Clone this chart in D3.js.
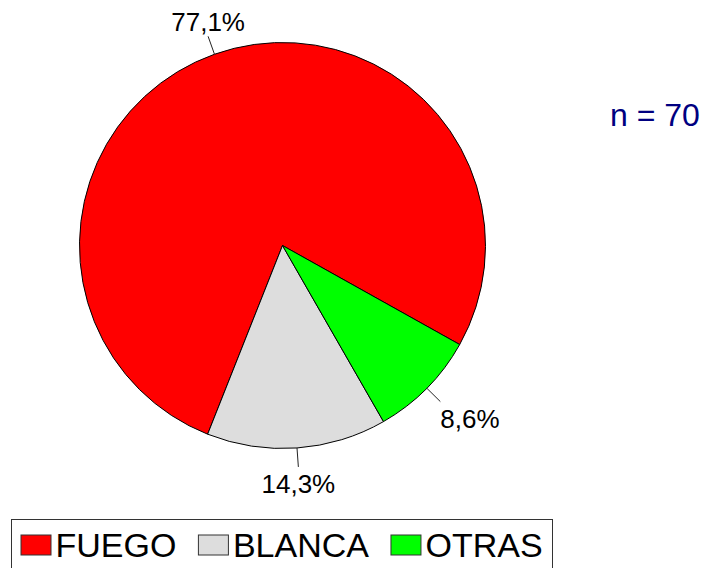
<!DOCTYPE html>
<html>
<head>
<meta charset="utf-8">
<script src="https://cdn.jsdelivr.net/npm/d3@7"></script>
<style>
  body { margin: 0; background: #fff; }
  svg { display: block; font-family: "Liberation Sans", Arial, sans-serif; }
</style>
</head>
<body>
<div id="chart"></div>
<script>
// data
var categories = ['FUEGO', 'BLANCA', 'OTRAS'];
var percents = [77.1, 14.3, 8.6];
var colors = ['#ff0000', '#dddddd', '#00ff00'];
var sampleLabel = 'n = 70';

var width = 711, height = 568;
var cx = 282.5, cy = 245.5, radius = 203;
var startDeg = 119.2;

var locale = d3.formatLocale({decimal: ',', thousands: '.', grouping: [3], currency: ['', '']});
var fmt = locale.format('.1f');

var svg = d3.select('#chart').append('svg')
    .attr('width', width)
    .attr('height', height);

var rad = function(deg) { return deg * Math.PI / 180; };

// slices go counter-clockwise from the start angle
var pie = d3.pie()
    .sort(null)
    .value(function(d) { return d; })
    .startAngle(rad(startDeg))
    .endAngle(rad(startDeg - 360));

var arc = d3.arc().innerRadius(0).outerRadius(radius);

var g = svg.append('g').attr('transform', 'translate(' + cx + ',' + cy + ')');

var arcs = pie(percents);

g.selectAll('path.slice')
    .data(arcs)
  .enter().append('path')
    .attr('class', 'slice')
    .attr('d', arc)
    .attr('fill', function(d, i) { return colors[i]; })
    .attr('stroke', '#000')
    .attr('stroke-width', 1)
    .attr('stroke-linejoin', 'round');

// leader lines + labels
var inner = d3.arc().innerRadius(radius).outerRadius(radius);
var outer = d3.arc().innerRadius(radius + 19).outerRadius(radius + 19);

function midAngle(d) { return (d.startAngle + d.endAngle) / 2; }
function pt(r, a) { return [r * Math.sin(a), -r * Math.cos(a)]; }

var lbl = g.selectAll('g.lbl')
    .data(arcs)
  .enter().append('g')
    .attr('class', 'lbl');

lbl.append('line')
    .attr('x1', function(d) { return pt(radius, midAngle(d))[0]; })
    .attr('y1', function(d) { return pt(radius, midAngle(d))[1]; })
    .attr('x2', function(d) { return pt(radius + 19, midAngle(d))[0]; })
    .attr('y2', function(d) { return pt(radius + 19, midAngle(d))[1]; })
    .attr('stroke', '#222')
    .attr('stroke-width', 1);

lbl.append('text')
    .attr('font-size', 26)
    .attr('fill', '#000')
    .attr('text-anchor', function(d) {
        var s = Math.sin(midAngle(d));
        if (Math.abs(s) < 0.5) return 'middle';
        return s > 0 ? 'start' : 'end';
    })
    .attr('x', function(d) { return pt(radius + 19, midAngle(d))[0]; })
    .attr('y', function(d) {
        var a = midAngle(d), y = pt(radius + 19, a)[1];
        return Math.cos(a) > 0 ? y - 5 : y + 26;
    })
    .text(function(d) { return fmt(d.data) + '%'; });

// sample size
svg.append('text')
    .attr('x', 610)
    .attr('y', 126)
    .attr('font-size', 32)
    .attr('fill', '#000080')
    .text(sampleLabel);

// legend
var legend = svg.append('g').attr('transform', 'translate(11.5,519.5)');

legend.append('rect')
    .attr('width', 541)
    .attr('height', 60)
    .attr('fill', '#fff')
    .attr('stroke', '#333')
    .attr('stroke-width', 1);

var lx = 9.5;
categories.forEach(function(c, i) {
    legend.append('rect')
        .attr('x', lx)
        .attr('y', 15.5)
        .attr('width', 30)
        .attr('height', 20)
        .attr('fill', colors[i])
        .attr('stroke', '#333')
        .attr('stroke-width', 1);
    var t = legend.append('text')
        .attr('x', lx + 34.5)
        .attr('y', 37)
        .attr('font-size', 34)
        .attr('fill', '#000')
        .text(c);
    lx += 34.5 + t.node().getComputedTextLength() + 22;
});
</script>
</body>
</html>
